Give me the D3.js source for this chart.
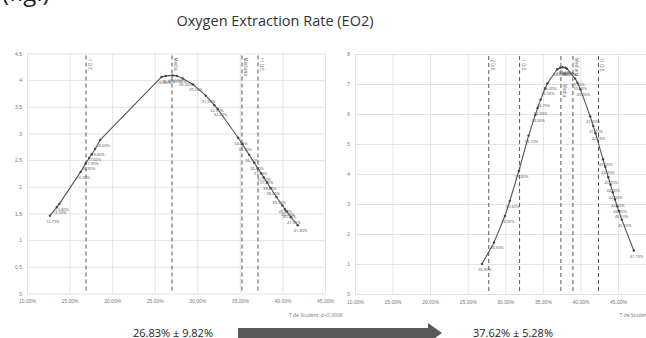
<!DOCTYPE html>
<html>
<head>
<meta charset="utf-8">
<script src="https://cdn.jsdelivr.net/npm/d3@7"></script>
<style>
    body { margin: 0; background: #fff; }
    svg { display: block; font-family: "Open Sans", sans-serif; }
</style>
</head>
<body>
<svg id="chart" width="646" height="338"></svg>
<script>
// 왼쪽 패널 (EO2 분포 1)
const leftX = [12.70, 13.50, 13.80, 16.30, 16.90, 17.30, 17.60, 18.00, 18.60, 25.80, 26.30, 27.10, 27.60, 28.30, 29.50,
               31.00, 32.00, 32.40, 34.80, 35.30, 36.10, 36.70, 37.10, 37.50, 37.80, 38.20, 38.60, 39.30, 40.00, 40.30,
               40.50, 41.00, 41.80];
const leftY = [1.46, 1.62, 1.68, 2.28, 2.44, 2.54, 2.61, 2.71, 2.88, 4.06, 4.08, 4.09, 4.08, 4.03, 3.92,
               3.71, 3.53, 3.46, 2.92, 2.80, 2.60, 2.45, 2.35, 2.25, 2.18, 2.08, 1.98, 1.81, 1.65, 1.58,
               1.54, 1.43, 1.28];
const leftRefX = [16.93, 27.03, 35.25, 37.13];
const leftRefLabels = ["-1 D.E.", "Media", "Mediana", "+1 D.E."];
const leftXTicks = [10, 15, 20, 25, 30, 35, 40, 45];
const leftYTicks = [0, 0.5, 1, 1.5, 2, 2.5, 3, 3.5, 4, 4.5];

// 오른쪽 패널 (EO2 분포 2)
const rightX = [26.90, 28.50, 29.95, 30.60, 31.80, 33.10, 34.00, 34.30, 34.70, 35.30, 35.60, 36.90, 37.30, 37.60, 38.00,
                38.20, 39.30, 39.60, 40.00, 41.30, 41.70, 42.00, 43.00, 43.30, 43.70, 44.00, 44.30, 44.60, 44.90, 45.10,
                45.50, 47.10];
const rightY = [1.00, 1.72, 2.60, 3.10, 4.10, 5.28, 5.97, 6.20, 6.48, 6.86, 7.02, 7.49, 7.54, 7.56, 7.54,
                7.51, 7.18, 7.04, 6.82, 5.92, 5.60, 5.36, 4.49, 4.24, 3.89, 3.64, 3.39, 3.15, 2.92, 2.77,
                2.48, 1.45];
const rightRefX = [27.80, 31.90, 37.40, 39.00, 42.40];
const rightRefLabels = ["-2 D.E.", "-1 D.E.", "Media", "Mediana", "+1 D.E."];
const rightXTicks = [10, 15, 20, 25, 30, 35, 40, 45, 50];
const rightYTicks = [0, 1, 2, 3, 4, 5, 6, 7, 8];

const titleText = "Oxygen Extraction Rate (EO2)";
const leftSummary = "26.83% ± 9.82%";
const rightSummary = "37.62% ± 5.28%";
const testLabel = "T de Student: p<0.0006";

class DensityPanel {
    constructor(svg, xs, ys, refX, refLabels, xTicks, yTicks) {
        this.svg = svg;
        this.points = xs.map((x, i) => ({x: x, y: ys[i]}));
        this.refs = refX.map((x, i) => ({x: x, label: refLabels[i], next: refX[i + 1]}));
        this.xTicks = xTicks;
        this.yTicks = yTicks;
    }

    draw(left, right, top, bottom) {
        const g = this.svg.append("g");
        this.x = d3.scaleLinear().domain([d3.min(this.xTicks), d3.max(this.xTicks)]).range([left, right]);
        this.y = d3.scaleLinear().domain([0, d3.max(this.yTicks)]).range([bottom, top]);

        // 격자 + 축 라벨
        const yAxis = g.append("g")
            .attr("transform", `translate(${left},0)`)
            .call(d3.axisLeft(this.y).tickValues(this.yTicks).tickSize(-(right - left)).tickPadding(5)
                .tickFormat(d3.format("~g")));
        const xAxis = g.append("g")
            .attr("transform", `translate(0,${bottom})`)
            .call(d3.axisBottom(this.x).tickValues(this.xTicks).tickSize(-(bottom - top)).tickPadding(6)
                .tickFormat(d => d.toFixed(2) + "%"));
        [xAxis, yAxis].forEach(a => {
            a.select(".domain").remove();
            a.selectAll("line").attr("stroke", "#dcdcdc").attr("stroke-width", 0.8);
            a.selectAll("text").attr("fill", "#777").style("font-size", "5px");
        });

        // 기준선 (평균, 표준편차)
        g.selectAll("line.ref")
            .data(this.refs)
            .join("line")
            .attr("class", "ref")
            .attr("x1", d => this.x(d.x))
            .attr("x2", d => this.x(d.x))
            .attr("y1", top + 2)
            .attr("y2", bottom)
            .attr("stroke", "#555")
            .attr("stroke-width", 1)
            .attr("stroke-dasharray", "4,3");
        // 다음 선과 너무 가까우면 라벨을 아래로 내림
        const near = d => d.next !== undefined && this.x(d.next) - this.x(d.x) < 14;
        g.selectAll("text.ref")
            .data(this.refs)
            .join("text")
            .attr("class", "ref")
            .attr("transform", d => `translate(${this.x(d.x) + 2},${top + (near(d) ? 30 : 4)}) rotate(90)`)
            .attr("fill", "#555")
            .style("font-size", "4.5px")
            .text(d => d.label);

        // 곡선 + 점
        const line = d3.line()
            .x(d => this.x(d.x))
            .y(d => this.y(d.y));
        g.append("path")
            .datum(this.points)
            .attr("d", line)
            .attr("fill", "none")
            .attr("stroke", "#555")
            .attr("stroke-width", 1.1)
            .attr("stroke-linejoin", "round");
        g.selectAll("circle.pt")
            .data(this.points)
            .join("circle")
            .attr("class", "pt")
            .attr("cx", d => this.x(d.x))
            .attr("cy", d => this.y(d.y))
            .attr("r", 1.2)
            .attr("fill", "#444");
        g.selectAll("text.pt")
            .data(this.points)
            .join("text")
            .attr("class", "pt")
            .attr("x", d => this.x(d.x) - 4)
            .attr("y", d => this.y(d.y) + 7)
            .attr("fill", "#555")
            .style("font-size", "4px")
            .text(d => d.x.toFixed(2) + "%");

        // T de Student
        g.append("text")
            .attr("x", right - 36)
            .attr("y", bottom + 23)
            .attr("fill", "#777")
            .style("font-size", "5px")
            .text(testLabel);
    }
}

const svg = d3.select("#chart");

// 잘린 그림 번호
svg.append("text").attr("x", 2).attr("y", 1).style("font-size", "24px").attr("fill", "#222").text("(fig.)");

svg.append("text")
    .attr("x", 275).attr("y", 26)
    .attr("text-anchor", "middle")
    .attr("fill", "#333")
    .style("font-size", "14.5px")
    .text(titleText);

new DensityPanel(svg, leftX, leftY, leftRefX, leftRefLabels, leftXTicks, leftYTicks).draw(27, 325, 53.5, 293.5);
new DensityPanel(svg, rightX, rightY, rightRefX, rightRefLabels, rightXTicks, rightYTicks).draw(355, 655.6, 54, 294);

// 하단 요약 + 화살표
svg.append("text").attr("x", 173).attr("y", 337).attr("text-anchor", "middle")
    .attr("fill", "#222").style("font-size", "11px").text(leftSummary);
svg.append("text").attr("x", 513).attr("y", 337).attr("text-anchor", "middle")
    .attr("fill", "#222").style("font-size", "11px").text(rightSummary);
svg.append("path")
    .attr("d", "M238,328 H428 V323 L442,333 L428,343 V338 H238 Z")
    .attr("fill", "#595959");
</script>
</body>
</html>
